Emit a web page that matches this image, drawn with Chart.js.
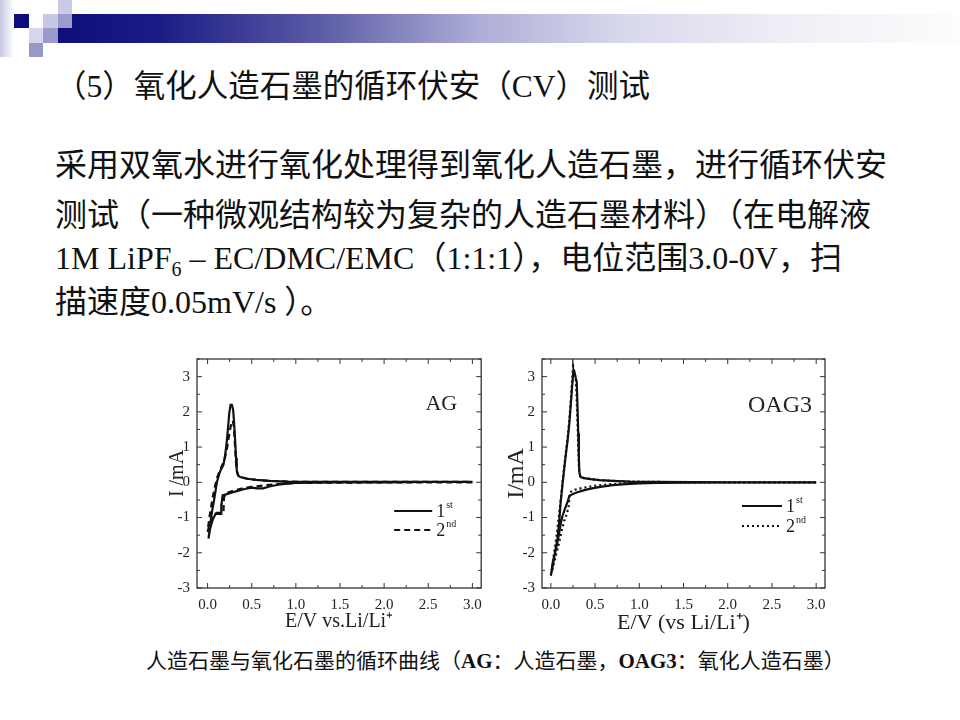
<!DOCTYPE html>
<html>
<head>
<meta charset="utf-8">
<script src="https://cdn.jsdelivr.net/npm/chart.js@4.4.1/dist/chart.umd.min.js"></script>
<style>
body{margin:0;width:960px;height:720px;overflow:hidden;background:#fff;position:relative;font-family:"Liberation Serif","Noto Sans CJK SC",serif;color:#111}
.sq{position:absolute}
.txt{position:absolute;white-space:nowrap;line-height:1}
.body{font-size:32px}
sub{font-size:20px;vertical-align:-7px}
.box{position:absolute}
</style>
</head>
<body>
<div class="sq" style="left:0;top:0;width:14px;height:57px;background:linear-gradient(to right,#c6c6e2,#fff)"></div>
<div class="sq" style="left:14px;top:14px;width:15px;height:14px;background:#0c0c7c"></div>
<div class="sq" style="left:43px;top:14px;width:15px;height:14px;background:#c8c8e4"></div>
<div class="sq" style="left:58px;top:0;width:14px;height:14px;background:#cacae6"></div>
<div class="sq" style="left:58px;top:14px;width:14px;height:14px;background:#9c9ccc"></div>
<div class="sq" style="left:29px;top:28px;width:14px;height:15px;background:#d6d6ec"></div>
<div class="sq" style="left:43px;top:28px;width:15px;height:15px;background:#9a9acc"></div>
<div class="sq" style="left:29px;top:43px;width:14px;height:14px;background:#9898c8"></div>
<div class="sq" style="left:58px;top:28px;width:14px;height:15px;background:#10107c"></div>
<div class="sq" style="left:72px;top:14px;width:888px;height:29px;background:linear-gradient(to right,#10107c 0%,#1c1c86 10%,#5c5ca6 28%,#aeaed8 46%,#d8d8ec 62%,#eeeef6 80%,#fdfdfd 100%)"></div>

<div class="txt" style="left:55px;top:71px;font-size:31.5px">（5）氧化人造石墨的循环伏安（CV）测试</div>
<div class="txt body" style="left:55px;top:149px">采用双氧水进行氧化处理得到氧化人造石墨，进行循环伏安</div>
<div class="txt body" style="left:55px;top:199px">测试（一种微观结构较为复杂的人造石墨材料）（在电解液</div>
<div class="txt body" style="left:55px;top:242px">1M LiPF<sub>6</sub> – EC/DMC/EMC（1:1:1），电位范围3.0-0V，扫</div>
<div class="txt body" style="left:55px;top:286px">描速度0.05mV/s ）。</div>

<div class="box" style="left:150px;top:343px;width:340px;height:299px"><canvas id="agChart"></canvas></div>
<div class="box" style="left:500px;top:343px;width:335px;height:299px"><canvas id="oagChart"></canvas></div>

<div class="txt" style="left:146px;top:651px;font-size:21px">人造石墨与氧化石墨的循环曲线（<b>AG</b>：人造石墨，<b>OAG3</b>：氧化人造石墨）</div>

<script>
// AG, cycle 1 (solid) and cycle 2 (dashed): potential E (V) and current I (mA)
let agE1=[3.0,2.5,2.0,1.5,1.2,1.0,0.9,0.8,0.7,0.63,0.56,0.5,0.42,0.33,0.25,0.2,0.17,0.16,0.155,0.12,0.09,0.06,0.03,0.01,
0.03,0.05,0.07,0.09,0.105,0.14,0.18,0.2,0.215,0.23,0.245,0.26,0.275,0.29,0.3,0.312,0.322,0.33,0.345,0.37,0.45,0.55,0.7,0.9,1.2,2.0,3.0]
let agI1=[0.01,0.01,0.0,0.0,-0.01,-0.02,-0.04,-0.07,-0.12,-0.17,-0.17,-0.15,-0.19,-0.25,-0.31,-0.35,-0.37,-0.6,-0.9,-0.9,-0.9,-1.05,-1.3,-1.6,
-1.2,-0.83,-0.55,-0.25,0.0,0.3,0.5,0.8,1.1,1.5,1.95,2.2,2.2,2.05,1.7,1.2,0.7,0.35,0.2,0.15,0.1,0.07,0.04,0.02,0.01,0.01,0.01]
let agE2=[3.0,2.5,2.0,1.5,1.2,1.0,0.85,0.7,0.6,0.5,0.4,0.3,0.24,0.2,0.185,0.18,0.14,0.1,0.06,0.03,0.0,
0.02,0.04,0.06,0.085,0.11,0.15,0.19,0.215,0.235,0.255,0.27,0.285,0.297,0.307,0.318,0.328,0.345,0.38,0.45,0.55,0.7,0.9,1.2,2.0,3.0]
let agI2=[0.0,0.0,0.0,-0.01,-0.01,-0.02,-0.04,-0.07,-0.1,-0.13,-0.17,-0.23,-0.28,-0.32,-0.45,-0.85,-0.87,-0.87,-0.95,-1.15,-1.4,
-1.0,-0.7,-0.4,-0.1,0.15,0.4,0.62,0.9,1.2,1.5,1.68,1.75,1.6,1.2,0.7,0.35,0.2,0.14,0.1,0.07,0.04,0.02,0.01,0.01,0.01]

// OAG3, cycle 1 (solid) and cycle 2 (dotted)
let oagE1=[3.0,2.5,2.0,1.5,1.2,1.0,0.85,0.7,0.56,0.45,0.37,0.3,0.25,0.21,0.19,0.16,0.13,0.11,0.094,0.07,0.04,0.02,0.0,
0.02,0.05,0.075,0.095,0.11,0.13,0.15,0.17,0.19,0.21,0.226,0.24,0.256,0.268,0.28,0.293,0.302,0.31,0.317,0.322,0.335,0.37,0.45,0.55,0.7,0.9,1.2,2.0,3.0]
let oagI1=[0.0,0.0,0.0,-0.01,-0.02,-0.03,-0.05,-0.08,-0.13,-0.18,-0.23,-0.28,-0.33,-0.38,-0.55,-0.75,-0.97,-1.2,-1.45,-1.75,-2.1,-2.4,-2.65,
-2.3,-1.95,-1.6,-1.1,-0.6,-0.1,0.35,0.8,1.2,1.7,2.22,2.7,3.19,3.12,2.98,2.85,2.1,1.4,0.7,0.3,0.15,0.12,0.09,0.06,0.04,0.02,0.01,0.0,0.0]
let oagE2=[3.0,2.5,2.0,1.5,1.2,1.0,0.85,0.7,0.6,0.5,0.4,0.3,0.25,0.22,0.21,0.2,0.18,0.15,0.12,0.09,0.06,0.03,0.01,
0.02,0.04,0.06,0.09,0.12,0.14,0.17,0.2,0.225,0.24,0.252,0.265,0.28,0.29,0.3,0.31,0.318,0.33,0.37,0.45,0.55,0.7,0.9,1.2,2.0,3.0]
let oagI2=[0.0,0.0,0.0,0.0,-0.01,-0.02,-0.03,-0.05,-0.07,-0.1,-0.14,-0.19,-0.23,-0.28,-0.45,-0.7,-0.9,-1.1,-1.4,-1.75,-2.05,-2.35,-2.55,
-2.3,-1.95,-1.6,-1.0,-0.3,0.2,0.85,1.5,2.3,2.85,3.3,3.15,2.95,2.5,1.8,1.0,0.4,0.18,0.13,0.09,0.06,0.04,0.02,0.01,0.0,0.0]

let cycleLabels=["1st","2nd"]
let xTickStep=0.25
let yTickStep=0.5

function pts(E,I){
return E.map((e,i)=>({x:e,y:I[i]}))
}

let serif='"Liberation Serif", "Times New Roman", serif'

let decor={
id:"decor",
afterDatasetsDraw(chart,args,opts){
let ctx=chart.ctx
let a=chart.chartArea
let x=chart.scales.x
let y=chart.scales.y
ctx.save()
ctx.strokeStyle="#333"
ctx.lineWidth=1.3
ctx.strokeRect(a.left,a.top,a.width,a.height)
ctx.lineWidth=1
let seg=(x1,y1,x2,y2)=>{ctx.beginPath();ctx.moveTo(x1,y1);ctx.lineTo(x2,y2);ctx.stroke()}
x.ticks.forEach(t=>{
let p=x.getPixelForValue(t.value)
let len=Math.abs(t.value*2-Math.round(t.value*2))<1e-6?5:3
seg(p,a.bottom,p,a.bottom-len)
seg(p,a.top,p,a.top+len)
})
y.ticks.forEach(t=>{
let p=y.getPixelForValue(t.value)
let len=Number.isInteger(t.value)?5:3
seg(a.left,p,a.left+len,p)
seg(a.right,p,a.right-len,p)
})
ctx.fillStyle="#222"
ctx.font=opts.labelSize+"px "+serif
ctx.textAlign="right"
ctx.textBaseline="alphabetic"
ctx.fillText(opts.label,a.right-opts.labelDx,a.top+opts.labelDy)
ctx.textAlign="left"
chart.data.datasets.forEach((ds,i)=>{
let ly=a.top+opts.legendY+i*opts.legendGap
ctx.strokeStyle="#111"
ctx.lineWidth=2.2
ctx.setLineDash(ds.borderDash||[])
seg(a.right-opts.legendX1,ly,a.right-opts.legendX2,ly)
ctx.setLineDash([])
let tx=a.right-opts.legendX2+4
ctx.font="18px "+serif
ctx.fillText(ds.label[0],tx,ly+6)
let w=ctx.measureText(ds.label[0]).width
ctx.font="10px "+serif
ctx.fillText(ds.label.slice(1),tx+w+1,ly-3)
})
ctx.restore()
}
}

function makeChart(id,sets,o){
let data={datasets:sets.map(s=>({
label:s.label,
data:pts(s.E,s.I),
borderColor:"#111",
borderWidth:2.2,
borderDash:s.dash,
pointRadius:0,
showLine:true,
tension:0,
fill:false
}))}
return new Chart(document.getElementById(id),{
type:"scatter",
data:data,
options:{
responsive:true,
maintainAspectRatio:false,
animation:false,
events:[],
layout:{padding:{top:0,right:o.padRight,left:0,bottom:0}},
plugins:{legend:{display:false},tooltip:{enabled:false},decor:o.decor},
scales:{
x:{
type:"linear",
min:o.xMin,max:3.1,
grid:{display:false,drawTicks:false},
border:{display:false},
ticks:{stepSize:xTickStep,includeBounds:false,autoSkip:false,maxRotation:0,padding:8,color:"#222",font:{family:serif,size:15},
callback:v=>Math.abs(v*2-Math.round(v*2))<1e-6?v.toFixed(1):""},
title:{display:true,text:o.xTitle,color:"#222",font:{family:serif,size:o.xTitleSize},padding:{top:0,bottom:o.xTitlePad}},
afterFit:s=>{s.height=54}
},
y:{
min:-3,max:3.5,
grid:{display:false,drawTicks:false},
border:{display:false},
ticks:{stepSize:yTickStep,includeBounds:false,autoSkip:false,padding:7,color:"#222",font:{family:serif,size:15},
callback:v=>Number.isInteger(v)?String(v):""},
title:{display:true,text:o.yTitle,color:"#222",font:{family:serif,size:o.yTitleSize},padding:{top:o.yTitlePad,bottom:0}},
afterFit:s=>{s.width=o.yWidth}
}
}
},
plugins:[decor]
})
}

makeChart("agChart",[
{label:cycleLabels[0],E:agE1,I:agI1,dash:[]},
{label:cycleLabels[1],E:agE2,I:agI2,dash:[6,4]}
],{xMin:-0.12,padRight:8,yWidth:47,xTitle:"E/V vs.Li/Li\u207A",xTitleSize:20,xTitlePad:8,yTitle:"I /mA",yTitleSize:20,yTitlePad:16,
decor:{label:"AG",labelSize:22,labelDx:24,labelDy:51,legendX1:87,legendX2:49,legendY:152,legendGap:19}})

makeChart("oagChart",[
{label:cycleLabels[0],E:oagE1,I:oagI1,dash:[]},
{label:cycleLabels[1],E:oagE2,I:oagI2,dash:[2,3]}
],{xMin:-0.1,padRight:10,yWidth:42,xTitle:"E/V (vs Li/Li\u207A)",xTitleSize:22,xTitlePad:6,yTitle:"I/mA",yTitleSize:24,yTitlePad:2,
decor:{label:"OAG3",labelSize:24,labelDx:13,labelDy:53,legendX1:83,legendX2:43,legendY:147,legendGap:20}})
</script>
</body>
</html>
